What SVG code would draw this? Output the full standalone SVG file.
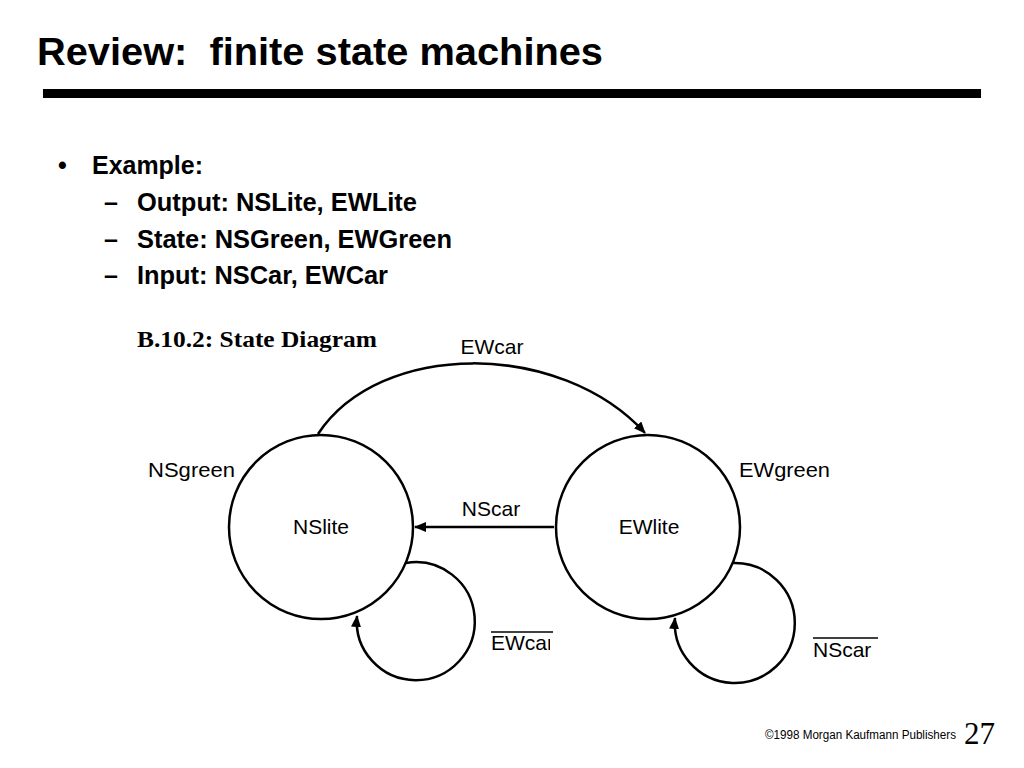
<svg xmlns="http://www.w3.org/2000/svg" width="1024" height="768" viewBox="0 0 1024 768">
<style>
.title{font-family:"Liberation Sans",Arial,sans-serif;font-weight:bold;font-size:38px;fill:#000}
.bul{font-family:"Liberation Sans",Arial,sans-serif;font-weight:bold;font-size:25px;fill:#000}
.cap{font-family:"Liberation Serif","Times New Roman",serif;font-weight:bold;font-size:24px;fill:#000}
.lbl{font-family:"Liberation Sans",Arial,sans-serif;font-size:21px;fill:#000}
.state{fill:#fff;stroke:#000;stroke-width:2.5}
.edge{fill:none;stroke:#000;stroke-width:2.5}
.ovl{stroke:#000;stroke-width:1.5}
</style>
<defs>
<marker id="ah" markerUnits="userSpaceOnUse" markerWidth="12" markerHeight="10" refX="11" refY="5" orient="auto">
<path d="M0,0 L12,5 L0,10 z" fill="#000"/>
</marker>
<clipPath id="clipEW"><rect x="480" y="620" width="70" height="40"/></clipPath>
</defs>
<rect width="1024" height="768" fill="#fff"/>
<text class="title" x="37" y="65" textLength="566" lengthAdjust="spacingAndGlyphs" xml:space="preserve">Review:  finite state machines</text>
<rect x="43" y="89" width="938" height="9" fill="#000"/>
<g id="bullets">
<text class="bul" x="58" y="174">•</text>
<text class="bul" x="92" y="174" textLength="111" lengthAdjust="spacingAndGlyphs">Example:</text>
<text class="bul" x="104" y="211">–</text>
<text class="bul" x="137" y="211" textLength="280" lengthAdjust="spacingAndGlyphs">Output: NSLite, EWLite</text>
<text class="bul" x="104" y="248">–</text>
<text class="bul" x="137" y="248" textLength="315" lengthAdjust="spacingAndGlyphs">State: NSGreen, EWGreen</text>
<text class="bul" x="104" y="284">–</text>
<text class="bul" x="137" y="284" textLength="251" lengthAdjust="spacingAndGlyphs">Input: NSCar, EWCar</text>
</g>
<text class="cap" x="137" y="347" textLength="240" lengthAdjust="spacingAndGlyphs">B.10.2: State Diagram</text>
<g id="connectors">
<path class="edge" d="M318,434 C380,340 560,340 645,433" marker-end="url(#ah)"/>
<line class="edge" x1="554" y1="527" x2="415" y2="527" marker-end="url(#ah)"/>
<path class="edge" d="M406,563 A59,59 0 1 1 357,616" marker-end="url(#ah)"/>
<path class="edge" d="M733,563 A60,60 0 1 1 675,618" marker-end="url(#ah)"/>
<text class="lbl" x="492" y="354" text-anchor="middle">EWcar</text>
<text class="lbl" x="491" y="516" text-anchor="middle">NScar</text>
<g clip-path="url(#clipEW)">
<text class="lbl" x="491" y="650">EWcar</text>
</g>
<line class="ovl" x1="491" y1="632" x2="553" y2="632"/>
<text class="lbl" x="813" y="657">NScar</text>
<line class="ovl" x1="813" y1="638" x2="878" y2="638"/>
</g>
<g id="NSgreen">
<circle class="state" cx="321" cy="527" r="92"/>
<text class="lbl" x="321" y="534" text-anchor="middle">NSlite</text>
<text class="lbl" x="148" y="477" textLength="87" lengthAdjust="spacingAndGlyphs">NSgreen</text>
</g>
<g id="EWgreen">
<circle class="state" cx="648" cy="527" r="92"/>
<text class="lbl" x="649" y="534" text-anchor="middle">EWlite</text>
<text class="lbl" x="739" y="477" textLength="91" lengthAdjust="spacingAndGlyphs">EWgreen</text>
</g>
<text x="765" y="739" font-family="'Liberation Sans',Arial,sans-serif" font-size="12" textLength="191" lengthAdjust="spacingAndGlyphs">©1998 Morgan Kaufmann Publishers</text>
<text x="964" y="744" font-family="'Liberation Serif','Times New Roman',serif" font-size="31">27</text>
</svg>
